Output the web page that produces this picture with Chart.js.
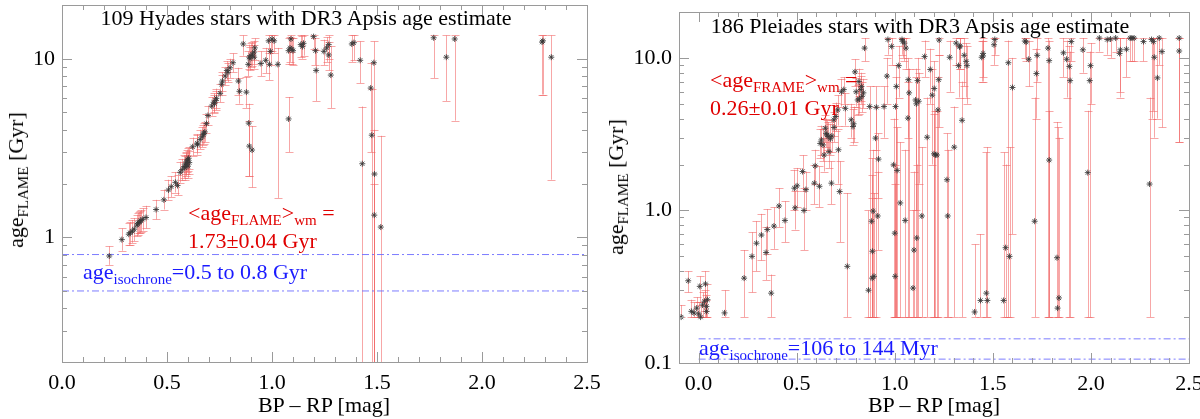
<!DOCTYPE html>
<html>
<head>
<meta charset="utf-8">
<script src="https://cdn.jsdelivr.net/npm/chart.js@4.4.0/dist/chart.umd.min.js"></script>
<style>
body { margin: 0; background: #fff; }
#wrap { position: relative; width: 1200px; height: 419px; overflow: hidden; font-family: "Liberation Serif", "DejaVu Serif", serif; }
canvas { position: absolute; top: 0; }
.t { position: absolute; white-space: nowrap; font-size: 22px; line-height: 1; transform: translateY(-50%); }
.c { transform: translate(-50%, -50%); }
.r { transform: translate(-50%, -50%) rotate(-90deg); }
.t sub { font-size: 15px; vertical-align: baseline; position: relative; top: 5px; }
.red { color: #e00000; }
.blue { color: #1a1aff; }
</style>
</head>
<body>
<div id="wrap">
  <canvas id="hyades" width="600" height="419" style="left:0"></canvas>
  <canvas id="pleiades" width="600" height="419" style="left:600px"></canvas>

  <div class="t c" style="left:306px;top:18px">109 Hyades stars with DR3 Apsis age estimate</div>
  <div class="t red" style="left:188px;top:213px">&lt;age<sub>FLAME</sub>&gt;<sub>wm</sub> =</div>
  <div class="t red" style="left:188px;top:241px">1.73±0.04 Gyr</div>
  <div class="t blue" style="left:83px;top:272px">age<sub>isochrone</sub>=0.5 to 0.8 Gyr</div>
  <div class="t c" style="left:324px;top:405px">BP – RP [mag]</div>
  <div class="t r" style="left:16px;top:180px">age<sub>FLAME</sub> [Gyr]</div>

  <div class="t c" style="left:920px;top:26px">186 Pleiades stars with DR3 Apsis age estimate</div>
  <div class="t red" style="left:710px;top:80px">&lt;age<sub>FRAME</sub>&gt;<sub>wm</sub> =</div>
  <div class="t red" style="left:710px;top:108px">0.26±0.01 Gyr</div>
  <div class="t blue" style="left:699px;top:348px">age<sub>isochrone</sub>=106 to 144 Myr</div>
  <div class="t c" style="left:934px;top:405px">BP – RP [mag]</div>
  <div class="t r" style="left:616px;top:187px">age<sub>FLAME</sub> [Gyr]</div>
</div>

<script>
// Hyades: colour, FLAME age and error bar ends (Gyr)
const hyadesBpRp = [
  0.225, 0.285, 0.318, 0.325, 0.344, 0.357, 0.366, 0.375, 0.384, 0.400,
  0.448, 0.485, 0.507, 0.540, 0.550, 0.563, 0.572, 0.582, 0.589, 0.596,
  0.603, 0.592, 0.600, 0.622, 0.644, 0.658, 0.673, 0.680, 0.668, 0.688,
  0.695, 0.713, 0.722, 0.732, 0.753, 0.764, 0.777, 0.790, 0.814, 0.800,
  0.840, 0.845, 0.863, 0.878, 0.887, 0.892, 0.900, 0.907, 0.915, 0.918,
  0.889, 0.892, 0.905, 0.947, 0.970, 0.988, 0.993, 0.984, 1.000, 1.010,
  1.028, 1.079, 1.086, 1.090, 1.100, 1.079, 1.137, 1.145, 1.198, 1.207,
  1.210, 1.247, 1.260, 1.270, 1.280, 1.380, 1.390, 1.420, 1.430, 1.470,
  1.475, 1.485, 1.488, 1.487, 1.518, 1.770, 1.830, 1.870, 2.286, 2.290,
  2.330, 0.360, 0.370, 0.585, 0.598, 0.606, 0.726, 0.675, 0.520, 0.335,
  0.915, 0.895, 1.095, 1.150, 1.270, 0.760, 0.785, 0.735, 0.645
];
const hyadesAge = [
  0.785, 0.97, 1.04, 1.06, 1.11, 1.17, 1.21, 1.24, 1.26, 1.29,
  1.43, 1.62, 1.84, 2.03, 1.95, 2.31, 2.39, 2.49, 2.60, 2.68,
  2.77, 2.55, 2.50, 3.21, 3.36, 3.53, 3.76, 3.89, 3.65, 4.33,
  4.81, 5.43, 5.70, 5.83, 6.40, 7.50, 8.00, 8.40, 9.50, 8.90,
  7.50, 6.57, 12.1, 6.50, 9.30, 10.2, 10.4, 10.6, 10.2, 11.5,
  4.36, 3.24, 3.08, 9.40, 9.80, 9.30, 11.0, 12.6, 12.9, 12.6,
  9.30, 11.1, 11.5, 12.9, 11.1, 4.60, 12.0, 11.7, 13.3, 11.1,
  8.60, 11.0, 11.5, 10.5, 8.10, 12.1, 12.3, 9.80, 2.58, 6.85,
  3.73, 9.50, 2.26, 1.33, 1.14, 13.1, 10.2, 12.9, 12.4, 12.6,
  10.2, 1.19, 1.22, 2.45, 2.72, 2.62, 5.60, 3.82, 1.92, 1.08,
  10.9, 10.0, 11.3, 12.2, 12.0, 7.20, 8.60, 6.00, 3.30
];
const hyadesAgeLo = [
  0.70, 0.84, 0.90, 0.91, 0.95, 1.01, 1.05, 1.07, 1.09, 1.12,
  1.26, 1.43, 1.62, 1.78, 1.72, 2.02, 2.08, 2.15, 2.25, 2.32,
  2.40, 2.20, 2.15, 2.85, 3.00, 3.12, 3.30, 3.42, 3.20, 3.85,
  4.25, 4.80, 5.05, 5.15, 5.70, 6.60, 7.10, 7.40, 8.40, 7.80,
  6.30, 5.60, 10.4, 5.30, 8.00, 8.80, 9.00, 9.10, 8.80, 9.90,
  2.20, 2.20, 1.90, 8.00, 8.30, 7.60, 9.20, 10.8, 11.0, 10.8,
  1.66, 9.30, 9.60, 10.9, 9.20, 3.00, 10.2, 10.0, 11.4, 9.20,
  5.80, 9.20, 9.60, 8.60, 5.30, 9.60, 9.80, 7.30, 0.10, 3.00,
  0.10, 0.10, 0.10, 0.10, 0.10, 7.80, 5.80, 4.50, 6.30, 6.30,
  2.10, 1.03, 1.05, 2.10, 2.35, 2.25, 4.95, 3.35, 1.68, 0.93,
  9.40, 8.60, 9.40, 10.4, 10.0, 6.30, 7.60, 5.30, 2.90
];
const hyadesAgeHi = [
  0.89, 1.12, 1.20, 1.22, 1.28, 1.34, 1.38, 1.42, 1.45, 1.50,
  1.62, 1.85, 2.10, 2.32, 2.22, 2.65, 2.75, 2.88, 3.00, 3.10,
  3.20, 2.95, 2.90, 3.62, 3.78, 4.00, 4.28, 4.42, 4.15, 4.90,
  5.45, 6.10, 6.40, 6.60, 7.20, 8.40, 9.00, 9.50, 10.7, 10.0,
  8.90, 7.80, 13.5, 7.90, 11.0, 12.0, 12.2, 12.4, 12.0, 13.0,
  5.60, 4.50, 4.20, 11.0, 11.5, 11.0, 12.8, 13.5, 13.5, 13.5,
  11.5, 13.0, 13.2, 13.5, 13.0, 6.10, 13.5, 13.4, 13.5, 13.0,
  11.2, 12.8, 13.2, 12.4, 11.8, 13.5, 13.5, 12.5, 5.40, 9.50,
  6.80, 12.5, 4.00, 2.00, 3.70, 13.5, 13.5, 13.5, 13.5, 13.5,
  13.5, 1.37, 1.40, 2.85, 3.15, 3.05, 6.30, 4.35, 2.20, 1.25,
  12.6, 11.7, 13.1, 13.5, 13.5, 8.10, 9.70, 6.80, 3.75
];

// Pleiades: colour, FLAME age and error bar ends (Gyr)
const pleiadesBpRp = [
  -0.089, -0.053, -0.037, -0.024, -0.010, 0.006, 0.020, 0.030, 0.035, 0.040,
  0.045, 0.132, 0.232, 0.272, 0.295, 0.320, 0.344, 0.350, 0.370, 0.384,
  0.410, 0.440, 0.488, 0.492, 0.502, 0.530, 0.537, 0.547, 0.590, 0.594,
  0.616, 0.626, 0.634, 0.640, 0.646, 0.654, 0.661, 0.665, 0.677, 0.679,
  0.689, 0.699, 0.709, 0.713, 0.719, 0.728, 0.740, 0.748, 0.758, 0.778,
  0.787, 0.797, 0.803, 0.811, 0.817, 0.827, 0.833, 0.846, 0.866, 0.872,
  0.882, 0.886, 0.890, 0.894, 0.902, 0.906, 0.913, 0.917, 0.945, 0.960,
  0.965, 0.984, 0.994, 1.000, 1.002, 1.004, 1.008, 1.012, 1.020, 1.028,
  1.037, 1.049, 1.053, 1.057, 1.067, 1.069, 1.073, 1.093, 1.098, 1.106,
  1.112, 1.116, 1.122, 1.138, 1.152, 1.165, 1.181, 1.191, 1.201, 1.207,
  1.215, 1.220, 1.224, 1.226, 1.266, 1.270, 1.280, 1.303, 1.313, 1.325,
  1.333, 1.343, 1.354, 1.364, 1.368, 1.407, 1.437, 1.443, 1.450, 1.467,
  1.472, 1.506, 1.510, 1.555, 1.565, 1.579, 1.585, 1.600, 1.663, 1.683,
  1.713, 1.722, 1.726, 1.781, 1.787, 1.787, 1.827, 1.830, 1.837, 1.860,
  1.876, 1.890, 1.894, 1.900, 1.959, 1.984, 1.994, 1.998, 2.043, 2.083,
  2.126, 2.146, 2.150, 2.181, 2.209, 2.220, 2.268, 2.299, 2.309, 2.319,
  2.323, 2.339, 2.348, 2.362, 2.450, 2.450, 0.620, 0.650, 0.672, 0.820,
  0.830, 0.840, 0.790, 1.040, 1.330, 1.450, 1.670, 2.200, 2.100, 0.010,
  0.000, 0.040, 0.690, 1.110, 1.200, 0.885
];
const pleiadesAge = [
  0.200, 0.346, 0.218, 0.213, 0.229, 0.318, 0.240, 0.254, 0.330, 0.218,
  0.260, 0.213, 0.360, 0.500, 0.610, 0.690, 0.530, 0.750, 0.287, 0.790,
  1.07, 0.86, 1.40, 1.04, 1.45, 1.80, 1.00, 1.37, 1.51, 1.96,
  1.44, 2.90, 2.69, 2.31, 3.46, 3.13, 3.05, 2.43, 1.51, 3.08,
  3.93, 4.13, 4.56, 2.50, 1.33, 6.00, 6.20, 4.67, 0.43, 3.93,
  3.55, 8.10, 6.00, 5.30, 7.00, 6.20, 5.60, 11.6, 0.30, 4.80,
  0.85, 0.54, 0.99, 0.37, 2.98, 4.75, 0.92, 2.17, 4.80, 7.60,
  13.2, 11.9, 1.99, 0.71, 0.37, 4.80, 6.50, 1.83, 8.90, 1.12,
  13.2, 12.5, 0.86, 11.6, 4.03, 7.20, 5.90, 0.31, 0.55, 5.30,
  0.66, 7.10, 5.20, 0.92, 10.2, 3.02, 8.40, 5.70, 6.30, 2.31,
  2.31, 4.56, 7.20, 13.1, 1.59, 0.92, 10.1, 2.60, 12.5, 8.90,
  12.0, 3.90, 10.4, 9.50, 8.90, 0.216, 0.257, 10.1, 10.7, 0.287,
  0.257, 12.2, 13.2, 0.257, 0.57, 9.30, 0.50, 6.40, 12.9, 9.80,
  0.85, 7.90, 10.4, 11.6, 9.60, 2.14, 0.49, 0.229, 0.267, 10.8,
  9.80, 8.80, 7.10, 12.8, 11.3, 1.77, 7.10, 8.90, 13.5, 13.2,
  13.5, 10.7, 11.3, 11.4, 13.5, 13.5, 12.8, 1.49, 13.2, 12.8,
  10.1, 7.40, 13.5, 11.0, 13.5, 11.1, 2.75, 3.20, 2.95, 5.40,
  6.50, 5.90, 3.70, 12.9, 11.8, 10.3, 12.7, 13.5, 13.3, 0.200,
  0.210, 0.235, 3.50, 5.00, 2.35, 0.36
];
const pleiadesAgeLo = [
  0.2, 0.29, 0.2, 0.2, 0.2, 0.25, 0.2, 0.2, 0.22, 0.2,
  0.2, 0.2, 0.2, 0.29, 0.40, 0.47, 0.35, 0.52, 0.2, 0.56,
  0.78, 0.62, 1.0, 0.75, 1.05, 1.35, 0.55, 1.0, 1.1, 1.5,
  1.05, 2.3, 2.1, 1.8, 2.8, 2.5, 2.4, 1.9, 1.1, 2.4,
  3.1, 3.3, 3.6, 1.5, 0.62, 4.8, 5.0, 3.6, 0.2, 3.0,
  2.7, 6.5, 4.8, 4.2, 5.6, 5.0, 4.4, 9.5, 0.2, 0.2,
  0.2, 0.2, 0.2, 0.2, 0.2, 2.5, 0.55, 1.2, 3.0, 5.0,
  10.5, 9.0, 0.2, 0.2, 0.2, 0.2, 0.2, 0.2, 5.5, 0.2,
  10.5, 9.5, 0.2, 8.5, 0.2, 3.0, 0.2, 0.2, 0.2, 0.2,
  0.2, 0.2, 1.5, 0.2, 7.5, 0.2, 5.0, 2.0, 0.2, 0.2,
  0.2, 0.2, 3.5, 10.5, 0.2, 0.2, 6.0, 0.2, 9.0, 5.5,
  8.5, 0.2, 6.5, 5.5, 5.0, 0.2, 0.2, 7.0, 7.5, 0.2,
  0.2, 9.0, 10.5, 0.2, 0.2, 0.2, 0.2, 0.7, 10.0, 6.5,
  0.2, 4.0, 7.0, 0.2, 0.2, 0.2, 0.2, 0.2, 0.2, 7.5,
  5.5, 0.2, 0.2, 9.5, 8.0, 0.2, 0.2, 5.0, 11.0, 10.5,
  11.0, 5.5, 6.0, 7.5, 9.5, 9.5, 9.5, 0.2, 4.0, 4.5,
  3.0, 4.0, 9.0, 3.5, 2.8, 2.8, 2.2, 2.6, 2.3, 4.3,
  5.2, 4.7, 2.8, 10.0, 8.5, 7.0, 9.5, 9.5, 10.0, 0.2,
  0.2, 0.2, 2.8, 1.0, 0.2, 0.2
];
const pleiadesAgeHi = [
  0.24, 0.40, 0.26, 0.25, 0.27, 0.37, 0.29, 0.30, 0.40, 0.26,
  0.33, 0.30, 0.55, 0.72, 0.85, 0.95, 0.78, 1.02, 0.38, 1.05,
  1.4, 1.15, 1.85, 1.35, 1.9, 2.3, 1.4, 1.8, 2.0, 2.5,
  1.95, 3.6, 3.4, 3.0, 4.2, 3.9, 3.8, 3.1, 2.1, 3.9,
  4.9, 5.1, 5.7, 3.4, 2.1, 7.3, 7.5, 5.9, 1.3, 5.0,
  4.6, 9.8, 7.4, 6.6, 8.5, 7.6, 7.0, 13.5, 1.0, 6.5,
  2.2, 1.7, 2.5, 1.3, 4.8, 6.5, 1.8, 3.2, 6.5, 10.0,
  13.5, 13.5, 4.0, 2.0, 1.5, 7.5, 9.0, 3.5, 12.0, 2.8,
  13.5, 13.5, 2.5, 13.5, 7.0, 10.0, 8.5, 1.0, 1.8, 8.5,
  2.0, 10.0, 8.0, 2.6, 13.0, 5.5, 11.5, 8.5, 9.5, 4.5,
  4.5, 7.5, 10.5, 13.5, 3.2, 2.5, 13.0, 4.8, 13.5, 12.0,
  13.5, 7.0, 13.5, 12.5, 12.0, 0.6, 0.7, 13.0, 13.5, 2.4,
  2.6, 13.5, 13.5, 2.4, 2.0, 13.0, 2.6, 10.0, 13.5, 13.0,
  5.5, 11.5, 13.5, 13.5, 13.0, 4.5, 3.8, 3.5, 3.0, 13.5,
  13.0, 12.0, 11.0, 13.5, 13.5, 4.5, 11.0, 12.5, 13.5, 13.5,
  13.5, 13.5, 13.5, 13.5, 13.5, 13.5, 13.5, 5.5, 13.5, 13.5,
  13.5, 13.5, 13.5, 13.5, 13.5, 13.5, 3.4, 4.0, 3.7, 6.7,
  8.0, 7.3, 4.8, 13.5, 13.5, 13.0, 13.5, 13.5, 13.5, 0.24,
  0.25, 0.28, 4.4, 7.5, 4.3, 1.2
];

// isochrone age ranges (Gyr)
const hyadesIso = [0.5, 0.8];
const pleiadesIso = [0.106, 0.144];

// ticks
const xTickValues = [0, 0.5, 1, 1.5, 2, 2.5];
const xTickLabels = ['0.0', '0.5', '1.0', '1.5', '2.0', '2.5'];
const hyadesYTicks = [1, 10];
const hyadesYLabels = ['1', '10'];
const pleiadesYTicks = [0.1, 1, 10];
const pleiadesYLabels = ['0.1', '1.0', '10.0'];
const logMinorTicks = [0.2, 0.3, 0.4, 0.5, 0.6, 0.7, 0.8, 0.9, 2, 3, 4, 5, 6, 7, 8, 9];

const FONT = '"Liberation Serif", "DejaVu Serif", serif';

// error bars under the points, then frame with inward ticks on every side
const idlFrame = {
  id: 'idlFrame',
  beforeDatasetsDraw(chart) {
    const { ctx, chartArea: a, scales: { x, y } } = chart;
    const ds = chart.data.datasets[0];
    ctx.save();
    ctx.beginPath();
    ctx.rect(a.left, a.top, a.right - a.left, a.bottom - a.top);
    ctx.clip();
    ctx.strokeStyle = 'rgba(240, 95, 95, 0.55)';
    ctx.lineWidth = 1;
    ctx.beginPath();
    ds.data.forEach((p, i) => {
      const px = Math.round(x.getPixelForValue(p.x)) + 0.5;
      const y1 = y.getPixelForValue(ds.errLo[i]);
      const y2 = y.getPixelForValue(ds.errHi[i]);
      ctx.moveTo(px, y1); ctx.lineTo(px, y2);
      ctx.moveTo(px - 4, Math.round(y1) + 0.5); ctx.lineTo(px + 4, Math.round(y1) + 0.5);
      ctx.moveTo(px - 4, Math.round(y2) + 0.5); ctx.lineTo(px + 4, Math.round(y2) + 0.5);
    });
    ctx.stroke();
    ctx.restore();
  },
  afterDraw(chart, args, opts) {
    const { ctx, chartArea: a, scales: { x, y } } = chart;
    ctx.save();
    ctx.strokeStyle = '#9a9a9a';
    ctx.lineWidth = 1;
    ctx.strokeRect(Math.round(a.left) + 0.5, Math.round(a.top) + 0.5,
      Math.round(a.right - a.left), Math.round(a.bottom - a.top));
    ctx.beginPath();
    const xt = (v, len) => {
      const p = Math.round(x.getPixelForValue(v)) + 0.5;
      if (p < a.left || p > a.right) return;
      ctx.moveTo(p, a.bottom); ctx.lineTo(p, a.bottom - len);
      ctx.moveTo(p, a.top); ctx.lineTo(p, a.top + len);
    };
    const yt = (v, len) => {
      const p = Math.round(y.getPixelForValue(v)) + 0.5;
      if (p < a.top || p > a.bottom) return;
      ctx.moveTo(a.left, p); ctx.lineTo(a.left + len, p);
      ctx.moveTo(a.right, p); ctx.lineTo(a.right - len, p);
    };
    for (let v = -1; v <= 26; v++) xt(v / 10, v % 5 === 0 ? 10 : 5);
    opts.yMajor.forEach(v => yt(v, 10));
    logMinorTicks.forEach(v => yt(v, 5));
    ctx.stroke();
    ctx.restore();
  }
};

function makePanel(id, o) {
  const points = o.bpRp.map((c, i) => ({ x: c, y: o.age[i] }));
  const isoLine = v => ({
    type: 'line',
    data: [{ x: o.isoFrom, y: v }, { x: 2.5, y: v }],
    borderColor: 'rgba(110, 110, 255, 0.9)',
    borderWidth: 1,
    borderDash: [7, 3, 2, 3],
    pointRadius: 0
  });
  return new Chart(document.getElementById(id), {
    type: 'scatter',
    data: {
      datasets: [{
        data: points,
        errLo: o.lo,
        errHi: o.hi,
        pointStyle: 'star',
        radius: 3,
        borderColor: 'rgba(55, 55, 55, 0.85)',
        backgroundColor: 'rgba(55, 55, 55, 0.85)',
        borderWidth: 1
      }, isoLine(o.iso[0]), isoLine(o.iso[1])]
    },
    options: {
      responsive: false,
      animation: false,
      layout: { padding: { top: o.top, right: 600 - o.right, left: 0, bottom: 0 } },
      plugins: {
        legend: { display: false },
        tooltip: { enabled: false },
        idlFrame: { yMajor: o.yTicks }
      },
      scales: {
        x: {
          type: 'linear',
          min: o.xMin,
          max: 2.5,
          border: { display: false },
          grid: { display: false, drawTicks: false },
          afterBuildTicks: s => { s.ticks = xTickValues.map(v => ({ value: v })); },
          afterFit: s => { s.height = 419 - o.bottom; s.paddingLeft = 0; s.paddingRight = 0; },
          ticks: {
            autoSkip: false,
            maxRotation: 0,
            padding: 8,
            color: '#000',
            font: { family: FONT, size: 22 },
            callback: (v, i) => xTickLabels[i]
          }
        },
        y: {
          type: 'logarithmic',
          min: o.yMin,
          max: 20,
          border: { display: false },
          grid: { display: false, drawTicks: false },
          afterBuildTicks: s => { s.ticks = o.yTicks.map(v => ({ value: v })); },
          afterFit: s => { s.width = o.left; s.paddingTop = 0; s.paddingBottom = 0; },
          ticks: {
            autoSkip: false,
            padding: 7,
            color: '#000',
            font: { family: FONT, size: 22 },
            callback: (v, i) => o.yLabels[i]
          }
        }
      }
    },
    plugins: [idlFrame]
  });
}

makePanel('hyades', {
  bpRp: hyadesBpRp, age: hyadesAge, lo: hyadesAgeLo, hi: hyadesAgeHi,
  iso: hyadesIso, isoFrom: 0,
  xMin: 0, yMin: 0.2, yTicks: hyadesYTicks, yLabels: hyadesYLabels,
  left: 62, right: 587, top: 1, bottom: 362
});

makePanel('pleiades', {
  bpRp: pleiadesBpRp, age: pleiadesAge, lo: pleiadesAgeLo, hi: pleiadesAgeHi,
  iso: pleiadesIso, isoFrom: 0,
  xMin: -0.1, yMin: 0.1, yTicks: pleiadesYTicks, yLabels: pleiadesYLabels,
  left: 79, right: 589, top: 12, bottom: 363
});
</script>
</body>
</html>
